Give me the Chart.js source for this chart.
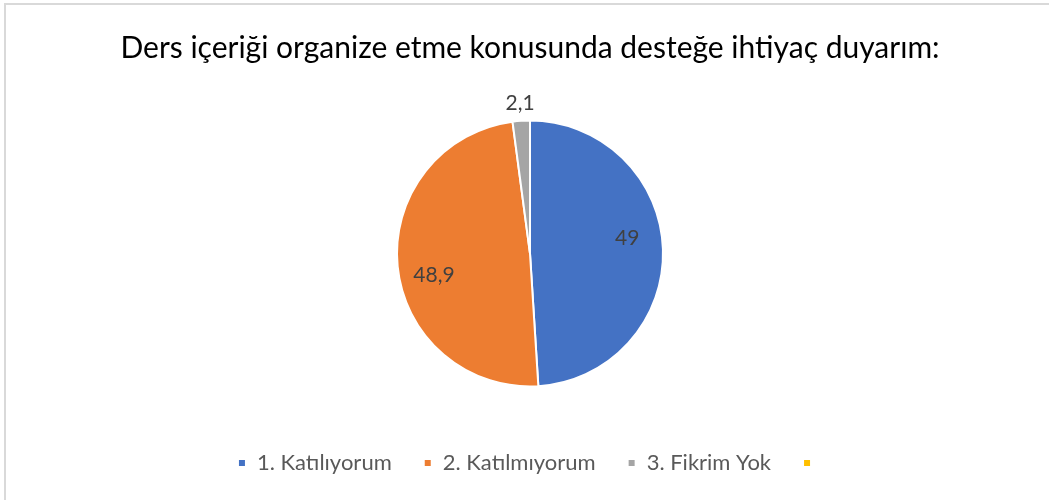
<!DOCTYPE html>
<html>
<head>
<meta charset="utf-8">
<script src="https://cdn.jsdelivr.net/npm/chart.js@4"></script>
<style>
    body { margin: 0; background: #fff; }
    #kutu { position: relative; width: 1049px; height: 500px; overflow: hidden; }
    #myChart { position: absolute; left: 0; top: 0; }
    #cerceve { position: absolute; left: 4px; top: 3px; right: -10px; bottom: -10px;
               border-top: 2px solid #d9d9d9; border-left: 2px solid #d9d9d9; pointer-events: none; }
</style>
</head>
<body>
<div id="kutu">
    <canvas id="myChart" width="1049" height="500"></canvas>
    <div id="cerceve"></div>
</div>
<script>
// Veriler
const etiketler = ['1. Katılıyorum', '2. Katılmıyorum', '3. Fikrim Yok', ''];
const degerler = [49, 48.9, 2.1, 0];
const renkler = ['#4472C4', '#ED7D31', '#A5A5A5', '#FFC000'];
const baslik = 'Ders içeriği organize etme konusunda desteğe ihtiyaç duyarım:';

// Dilim etiketleri (virgüllü ondalık)
const dilimEtiketleri = {
    id: 'dilimEtiketleri',
    afterDatasetsDraw(chart) {
        const ctx = chart.ctx;
        const meta = chart.getDatasetMeta(0);
        ctx.save();
        ctx.font = '21px Lato';
        ctx.fillStyle = '#404040';
        ctx.textAlign = 'center';
        ctx.textBaseline = 'middle';
        meta.data.forEach(function(arc, i) {
            const v = degerler[i];
            if (!v) return;
            const p = arc.getProps(['x', 'y', 'startAngle', 'endAngle', 'outerRadius'], true);
            let orta = (p.startAngle + p.endAngle) / 2;
            let r;
            if (v < 5) {
                // küçük dilimin etiketi dışarıda
                r = p.outerRadius + 18;
            } else {
                // Excel'in "en uygun" yerleşimine yakın
                orta -= 7 * Math.PI / 180;
                r = p.outerRadius * 0.74;
            }
            const metin = String(v).replace('.', ',');
            ctx.fillText(metin, p.x + Math.cos(orta) * r, p.y + Math.sin(orta) * r);
        });
        ctx.restore();
    }
};

const ctx = document.getElementById('myChart').getContext('2d');
new Chart(ctx, {
    type: 'pie',
    data: {
        labels: etiketler,
        datasets: [{
            data: degerler,
            backgroundColor: renkler,
            borderColor: '#ffffff',
            borderWidth: 2,
            radius: 133
        }]
    },
    options: {
        responsive: false,
        animation: false,
        layout: { padding: { left: 11, right: 0, top: 0, bottom: 16 } },
        plugins: {
            title: {
                display: true,
                text: baslik,
                color: '#000000',
                font: { family: 'Lato', size: 30, weight: 'normal' },
                padding: { top: 30, bottom: 21 }
            },
            legend: {
                position: 'bottom',
                labels: {
                    color: '#595959',
                    font: { family: 'Lato', size: 22 },
                    boxWidth: 8,
                    boxHeight: 8,
                    padding: 32
                }
            },
            tooltip: { enabled: false }
        }
    },
    plugins: [dilimEtiketleri]
});
</script>
</body>
</html>
